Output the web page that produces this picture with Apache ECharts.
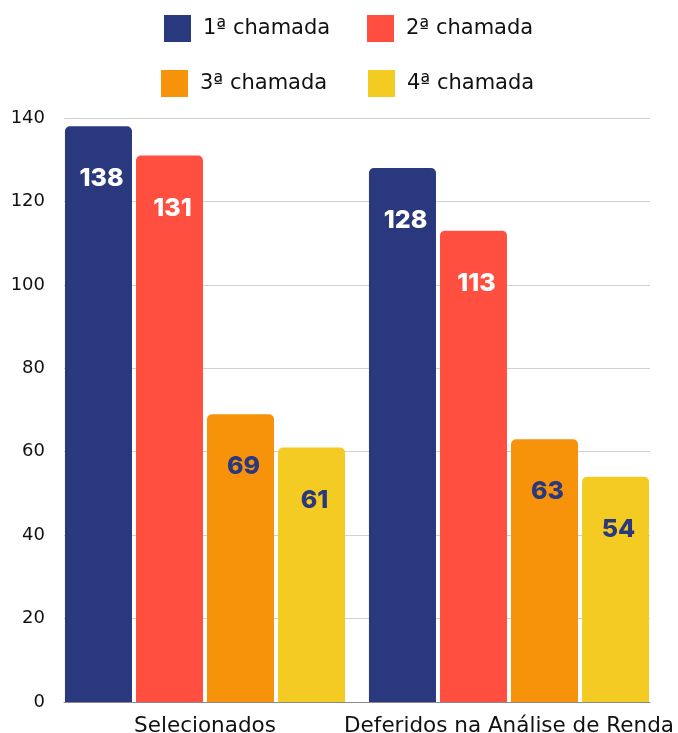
<!DOCTYPE html>
<html><head><meta charset="utf-8">
<script src="https://cdn.jsdelivr.net/npm/echarts@6/dist/echarts.min.js"></script>
<style>html,body{margin:0;padding:0;background:#fff}#c{width:678px;height:733px}</style>
</head><body><div id="c"></div>
<script>
const categories = ['Selecionados', 'Deferidos na Análise de Renda'];
const seriesNames = ['1ª chamada', '2ª chamada', '3ª chamada', '4ª chamada'];
const chamada1 = [138, 128];
const chamada2 = [131, 113];
const chamada3 = [69, 63];
const chamada4 = [61, 54];
const yTicks = [0, 20, 40, 60, 80, 100, 120, 140];

const colors = ['#2A387D', '#FF4F40', '#F7930A', '#F4CB22'];
const labelColors = ['#ffffff', '#ffffff', '#2A387D', '#2A387D'];
const values = [chamada1, chamada2, chamada3, chamada4];
const FONT = '"DejaVu Sans"';

const legendPos = [[164, 15], [367, 15], [161, 70], [368, 70]];

const chart = echarts.init(document.getElementById('c'), null, {renderer: 'canvas'});
chart.setOption({
  animation: false,
  legend: seriesNames.map((n, i) => ({
    data: [n], left: legendPos[i][0], top: legendPos[i][1], padding: 0,
    itemWidth: 27, itemHeight: 27, icon: 'rect',
    textStyle: {fontFamily: FONT, fontSize: 21, color: '#111', padding: [0, 0, 0, 7]}
  })),
  grid: [
    {left: 64, right: 28, top: 118, bottom: 31, containLabel: false, outerBoundsMode: 'none'},
    {left: 53, right: 17, top: 118, bottom: 31, containLabel: false, outerBoundsMode: 'none'}
  ],
  xAxis: [
    {type: 'category', gridIndex: 0, data: categories, axisLine: {lineStyle: {color: '#8a8a8a'}},
     axisTick: {show: false}, axisLabel: {show: false}},
    {type: 'category', gridIndex: 1, data: categories, axisLine: {show: false}, axisTick: {show: false},
     axisLabel: {interval: 0, fontFamily: FONT, fontSize: 21.5, color: '#111', margin: 13}}
  ],
  yAxis: [
    {type: 'value', gridIndex: 0, min: yTicks[0], max: yTicks[yTicks.length - 1], interval: 20,
     axisLine: {show: false}, axisTick: {show: false},
     splitLine: {lineStyle: {color: '#d0d0d0'}},
     axisLabel: {fontFamily: FONT, fontSize: 18, color: '#111', margin: 19}},
    {type: 'value', gridIndex: 1, min: yTicks[0], max: yTicks[yTicks.length - 1], interval: 20,
     show: false, splitLine: {show: false}}
  ],
  series: seriesNames.map((n, i) => ({
    name: n, type: 'bar', xAxisIndex: 1, yAxisIndex: 1,
    data: values[i], barWidth: 67, barGap: '6%',
    itemStyle: {color: colors[i], borderRadius: [5, 5, 0, 0]},
    label: {show: true, position: 'insideTop', distance: 40, offset: [3, 0],
      fontFamily: 'Inter', fontWeight: 800, fontSize: 25, color: labelColors[i]}
  }))
});
</script></body></html>
